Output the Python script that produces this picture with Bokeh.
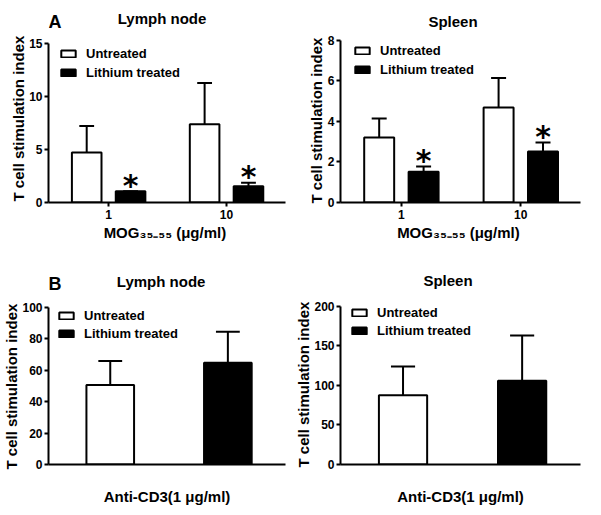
from bokeh.plotting import figure
from bokeh.models import Range1d, FixedTicker, Label, ColumnDataSource, Title
from bokeh.layouts import gridplot
from bokeh.embed import file_html
from bokeh.resources import INLINE
from bokeh.core.properties import value

FONT = "Liberation Sans"

# ---------------- data ----------------
doses = ["1", "10"]
series_names = ["Untreated", "Lithium treated"]

# Panel A: MOG35-55 stimulation (mean, SEM)
ln_mog_untreated = [4.7, 7.35]
ln_mog_untreated_sem = [2.5, 3.9]
ln_mog_lithium = [1.05, 1.52]
ln_mog_lithium_sem = [0.0, 0.34]

sp_mog_untreated = [3.2, 4.68]
sp_mog_untreated_sem = [0.94, 1.45]
sp_mog_lithium = [1.51, 2.51]
sp_mog_lithium_sem = [0.26, 0.45]

# Panel B: anti-CD3 stimulation (mean, SEM)
ln_cd3_means = [50.5, 64.7]
ln_cd3_sems = [15.3, 19.6]
sp_cd3_means = [87.6, 105.8]
sp_cd3_sems = [36.4, 57.2]

ln_ticks_a = [0, 5, 10, 15]
sp_ticks_a = [0, 2, 4, 6, 8]
ln_ticks_b = [0, 20, 40, 60, 80, 100]
sp_ticks_b = [0, 50, 100, 150, 200]

YLABEL = "T cell stimulation index"
XLABEL_A = "MOG\u2083\u2085\u208b\u2085\u2085  (\u03bcg/ml)"
XLABEL_B = "Anti-CD3(1 \u03bcg/ml)"


def base_fig(width, height, mb, yend, yticks, ylab_offset, ylab_standoff, xlabel):
    left, right, top, bottom = mb
    p = figure(width=width, height=height, output_backend="svg", toolbar_location=None,
               x_range=Range1d(0.49, 2.5), y_range=Range1d(0, yend),
               min_border_left=left, min_border_right=right,
               min_border_top=top, min_border_bottom=bottom)
    p.outline_line_color = None
    p.xgrid.visible = False
    p.ygrid.visible = False
    p.background_fill_color = "white"
    p.border_fill_color = "white"
    for ax in (p.xaxis[0], p.yaxis[0]):
        ax.axis_line_width = 2
        ax.axis_line_color = "black"
        ax.major_tick_line_width = 2
        ax.major_tick_line_color = "black"
        ax.major_tick_in = 0
        ax.major_tick_out = 4
        ax.minor_tick_line_color = None
        ax.major_label_text_font = FONT
        ax.major_label_text_font_style = "bold"
        ax.major_label_text_font_size = "12px"
        ax.major_label_text_color = "black"
        ax.axis_label_text_font = FONT
        ax.axis_label_text_font_style = "bold"
        ax.axis_label_text_font_size = "15px"
        ax.axis_label_text_color = "black"
    p.yaxis.ticker = FixedTicker(ticks=yticks)
    p.yaxis.bounds = (yticks[0], yticks[-1])
    p.yaxis.major_label_standoff = 2
    p.xaxis.axis_label = xlabel
    p.add_layout(Title(text=YLABEL, align="left", offset=ylab_offset, standoff=ylab_standoff,
                       text_font=FONT, text_font_style="bold", text_font_size="15px",
                       text_color="black"), "left")
    return p


def add_titles(p, letter, title, lx, ly, tx, ty):
    if letter:
        p.add_layout(Label(x=lx, y=ly, x_units="screen", y_units="screen", text=letter,
                           text_font=FONT, text_font_style="bold", text_font_size="18px",
                           text_color="black", text_align="left", text_baseline="alphabetic"))
    p.add_layout(Label(x=tx, y=ty, x_units="screen", y_units="screen", text=title,
                       text_font=FONT, text_font_style="bold", text_font_size="15px",
                       text_color="black", text_align="center", text_baseline="alphabetic"))


def draw_bars(p, xs, means, sems, width, color, label):
    tops = [m + s for m, s in zip(means, sems)]
    caps0 = [x - width / 4 for x in xs]
    caps1 = [x + width / 4 for x in xs]
    src = ColumnDataSource(dict(x=xs, top=means, etop=tops, c0=caps0, c1=caps1))
    p.segment(x0="x", y0="top", x1="x", y1="etop", source=src, line_color="black", line_width=2)
    p.segment(x0="c0", y0="etop", x1="c1", y1="etop", source=src, line_color="black", line_width=2)
    p.vbar(x="x", top="top", bottom=0, width=width, source=src, fill_color=color,
           line_color="black", line_width=2, legend_label=label)
    return src


def style_legend(p, loc, spacing):
    lg = p.legend[0]
    lg.location = loc
    lg.margin = 0
    lg.padding = 0
    lg.spacing = spacing
    lg.glyph_width = 18
    lg.glyph_height = 9
    lg.label_height = 18
    lg.label_standoff = 9
    lg.label_text_font = FONT
    lg.label_text_font_style = "bold"
    lg.label_text_font_size = "13px"
    lg.label_text_color = "black"
    lg.background_fill_alpha = 0
    lg.border_line_alpha = 0


def panel_a(title, letter, untreated, untreated_sem, lithium, lithium_sem, yend, yticks,
            mb, ylab, legend_loc, letter_pos, title_pos):
    p = base_fig(292, 253, mb, yend, yticks, ylab[0], ylab[1], XLABEL_A)
    groups = [i + 1 for i in range(len(doses))]
    xu = [g - 0.186 for g in groups]
    xl = [g + 0.186 for g in groups]
    draw_bars(p, xu, untreated, untreated_sem, 0.251, "white", series_names[0])
    src = draw_bars(p, xl, lithium, lithium_sem, 0.251, "black", series_names[1])
    p.text(x="x", y="etop", text=value("*"), source=src, text_font=value("DejaVu Sans"),
           text_font_style="bold", text_font_size=value("30px"), text_align="center",
           text_baseline="middle", y_offset=-6, text_color="black")
    p.xaxis.ticker = FixedTicker(ticks=groups)
    p.xaxis.major_label_overrides = {g: d for g, d in zip(groups, doses)}
    p.xaxis.major_label_standoff = 3
    p.xaxis.axis_label_standoff = 2
    style_legend(p, legend_loc, 1)
    add_titles(p, letter, title, letter_pos[0], letter_pos[1], title_pos[0], title_pos[1])
    return p


def panel_b(title, letter, means, sems, yend, yticks, mb, ylab, legend_loc,
            letter_pos, title_pos):
    p = base_fig(292, 254, mb, yend, yticks, ylab[0], ylab[1], XLABEL_B)
    p.x_range.start = 0.475
    p.x_range.end = 2.49
    xs = [1, 2]
    draw_bars(p, [xs[0]], [means[0]], [sems[0]], 0.405, "white", series_names[0])
    draw_bars(p, [xs[1]], [means[1]], [sems[1]], 0.405, "black", series_names[1])
    p.xaxis.ticker = FixedTicker(ticks=[])
    p.xaxis.major_tick_out = 0
    p.xaxis.axis_label_standoff = 23
    style_legend(p, legend_loc, 0)
    add_titles(p, letter, title, letter_pos[0], letter_pos[1], title_pos[0], title_pos[1])
    return p


p1 = panel_a("Lymph node", "A", ln_mog_untreated, ln_mog_untreated_sem, ln_mog_lithium,
             ln_mog_lithium_sem, 19.0, ln_ticks_a, (41, 3, 0, 49), (1, 0), (11, 120.5),
             (0, 181), (113.5, 183.7))
p2 = panel_a("Spleen", None, sp_mog_untreated, sp_mog_untreated_sem, sp_mog_lithium,
             sp_mog_lithium_sem, 9.95, sp_ticks_a, (40, 4, 0, 51), (-1, 0), (13, 124),
             (0, 0), (112.5, 181.2))
p3 = panel_b("Lymph node", "B", ln_cd3_means, ln_cd3_sems, 134.1, ln_ticks_b,
             (41, 7, 0, 40), (-5, 0), (9, 122), (0, 180.3), (112.6, 182.6))
p4 = panel_b("Spleen", None, sp_cd3_means, sp_cd3_sems, 266.7, sp_ticks_b,
             (45, 1, 0, 38), (-3, 0), (10, 125), (0, 0), (107.5, 183.7))

grid = gridplot([[p1, p2], [p3, p4]], toolbar_location=None)
open("out.html", "w").write(file_html(grid, INLINE))
